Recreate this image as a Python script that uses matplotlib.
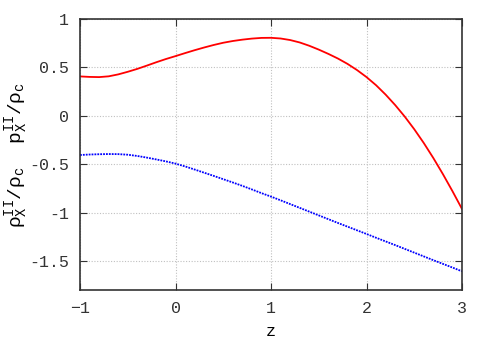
import matplotlib
matplotlib.use('Agg')
import matplotlib.pyplot as plt

# values, step 0.1 in z
z = [-1.0, -0.9, -0.8, -0.7, -0.6, -0.5, -0.4, -0.3, -0.2, -0.1,
     0.0, 0.1, 0.2, 0.3, 0.4, 0.5, 0.6, 0.7, 0.8, 0.9,
     1.0, 1.1, 1.2, 1.3, 1.4, 1.5, 1.6, 1.7, 1.8, 1.9,
     2.0, 2.1, 2.2, 2.3, 2.4, 2.5, 2.6, 2.7, 2.8, 2.9, 3.0]
p_x = [0.407, 0.402, 0.400, 0.408, 0.428, 0.455, 0.485, 0.519, 0.554, 0.587,
       0.617, 0.648, 0.678, 0.706, 0.732, 0.755, 0.773, 0.787, 0.798, 0.805,
       0.806, 0.799, 0.783, 0.758, 0.724, 0.684, 0.640, 0.592, 0.537, 0.473,
       0.400, 0.316, 0.219, 0.111, -0.008, -0.139, -0.282, -0.437, -0.603, -0.779, -0.963]
rho_x = [-0.405, -0.400, -0.397, -0.395, -0.396, -0.402, -0.415, -0.432, -0.451, -0.471,
         -0.494, -0.523, -0.555, -0.588, -0.621, -0.655, -0.689, -0.724, -0.761, -0.799,
         -0.835, -0.873, -0.912, -0.951, -0.990, -1.029, -1.068, -1.107, -1.145, -1.183,
         -1.221, -1.260, -1.298, -1.336, -1.375, -1.414, -1.453, -1.492, -1.530, -1.568, -1.607]

xticks = [-1, 0, 1, 2, 3]
yticks = [-1.5, -1, -0.5, 0, 0.5, 1]
yticklabels = ['-1.5', '-1', '-0.5', '0', '0.5', '1']

plt.rcParams['font.family'] = 'Liberation Mono'
plt.rcParams['mathtext.fontset'] = 'custom'
plt.rcParams['mathtext.rm'] = 'Liberation Mono'
plt.rcParams['mathtext.it'] = 'Liberation Mono'
plt.rcParams['mathtext.default'] = 'rm'

fig = plt.figure(figsize=(4.91, 3.43), dpi=100)
ax = fig.add_axes([0.163, 0.1545, 0.778, 0.79])

ax.plot(z, p_x, color='#ff0000', lw=1.3)
ax.plot(z, rho_x, color='#0000ff', lw=1.3, linestyle=(0, (1, 0.6)))

ax.set_xlim(-1, 3)
ax.set_ylim(-1.8, 1)
ax.set_xticks(xticks)
ax.set_yticks(yticks)
ax.set_yticklabels(yticklabels)
ax.grid(True, color='#c0c0c0', linestyle=(0, (1, 1.5)), lw=0.8)
ax.tick_params(direction='in', length=5, top=True, right=True,
               labelsize=12, pad=8, colors='#333333')
for s in ax.spines.values():
    s.set_color('#333333')
    s.set_linewidth(1.2)

ax.set_xlabel('z', fontsize=12, labelpad=6)
ax.set_ylabel(r'$\rho_X^{II}/\rho_c$  $p_X^{II}/\rho_c$', fontsize=14, labelpad=-1)

fig.savefig('out.png', dpi=100)
